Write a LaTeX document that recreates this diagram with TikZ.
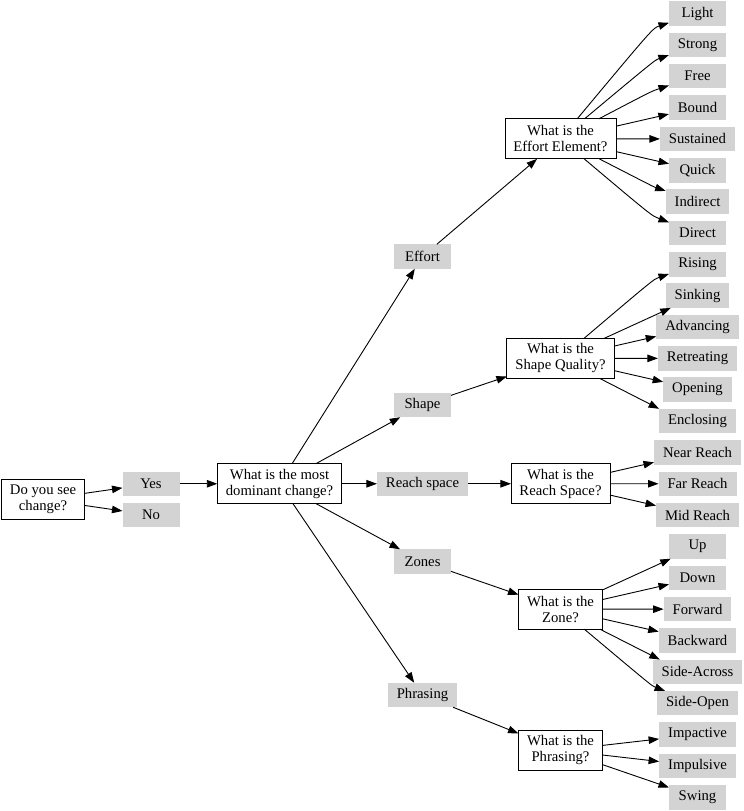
\documentclass[tikz,border=0pt]{standalone}
\usepackage{fontspec}
\setmainfont{Liberation Serif}
\usetikzlibrary{arrows.meta}
\definecolor{boxgray}{RGB}{211,211,211}

\tikzset{
	question/.style={draw, fill=white, line width=0.9pt, align=center, inner xsep=8.5pt, inner ysep=2pt, minimum height=40pt, outer sep=0pt},
	answer/.style={fill=boxgray, inner xsep=9pt, minimum width=57pt, minimum height=24.5pt, outer sep=0pt},
	link/.style={-{Triangle[length=10.5pt, width=7.5pt]}, line width=0.9pt},
}

\begin{document}
\begin{tikzpicture}[x=1pt, y=-1pt, font=\fontsize{14.7}{16.2}\selectfont]
	\useasboundingbox (0,0) rectangle (744,811);

	% first question
	\node[question] (see) at (43,499.4) {Do you see\\change?};
	\node[answer] (yes) at (151,483.75) {Yes};
	\node[answer] (no) at (151,515.1) {No};
	\node[question] (dominant) at (279.5,483.75) {What is the most\\dominant change?};

	% kinds of change
	\node[answer] (effort) at (422.5,256.5) {Effort};
	\node[answer] (shape) at (422.5,405) {Shape};
	\node[answer] (reach) at (422.5,483.75) {Reach space};
	\node[answer] (zones) at (422.5,561.5) {Zones};
	\node[answer] (phrasing) at (422.5,695) {Phrasing};

	% second questions
	\node[question] (qeffort) at (560.5,138.9) {What is the\\Effort Element?};
	\node[question] (qshape) at (560.5,358.35) {What is the\\Shape Quality?};
	\node[question] (qreach) at (560.5,483.75) {What is the\\Reach Space?};
	\node[question] (qzone) at (560.5,609.15) {What is the\\Zone?};
	\node[question] (qphrasing) at (560.5,750.2) {What is the\\Phrasing?};

	% answers, one column
	\foreach \name/\txt [count=\i from 0] in {light/Light, strong/Strong, free/Free, bound/Bound,
		sustained/Sustained, quick/Quick, indirect/Indirect, direct/Direct,
		rising/Rising, sinking/Sinking, advancing/Advancing, retreating/Retreating, opening/Opening, enclosing/Enclosing,
		near/Near Reach, far/Far Reach, mid/Mid Reach,
		up/Up, down/Down, forward/Forward, backward/Backward, across/Side-Across, open/Side-Open,
		impactive/Impactive, impulsive/Impulsive, swing/Swing}
		\node[answer] (\name) at (697.5,{13.5+31.35*\i}) {\txt};

	\draw[link] (see) -- (yes);
	\draw[link] (see) -- (no);
	\draw[link] (yes) -- (dominant);
	\foreach \b in {effort,shape,reach,zones,phrasing}
		\draw[link] (dominant) -- (\b);

	\draw[link] (effort) -- (qeffort);
	\draw[link] (shape) -- (qshape);
	\draw[link] (reach) -- (qreach);
	\draw[link] (zones) -- (qzone);
	\draw[link] (phrasing) -- (qphrasing);

	% effort elements
	\draw[link] (qeffort) .. controls (653,28) .. (light);
	\draw[link] (qeffort) .. controls (655,60) .. (strong);
	\draw[link] (qeffort) .. controls (652,91) .. (free);
	\foreach \b in {bound,sustained,quick}
		\draw[link] (qeffort) -- (\b);
	\draw[link] (qeffort) .. controls (654,187) .. (indirect);
	\draw[link] (qeffort) .. controls (652,216) .. (direct);

	% shape qualities
	\draw[link] (qshape) .. controls (654,279) .. (rising);
	\foreach \b in {sinking,advancing,retreating,opening}
		\draw[link] (qshape) -- (\b);
	\draw[link] (qshape) -- (enclosing.north west);

	% reach space
	\foreach \b in {near,far,mid}
		\draw[link] (qreach) -- (\b);

	% zones
	\foreach \b in {up,down,forward,backward}
		\draw[link] (qzone) -- (\b);
	\draw[link] (qzone) -- (across.162);
	\draw[link] (qzone) .. controls (652,686) .. (open);

	% phrasing
	\foreach \b in {impactive,impulsive,swing}
		\draw[link] (qphrasing) -- (\b);
\end{tikzpicture}
\end{document}
